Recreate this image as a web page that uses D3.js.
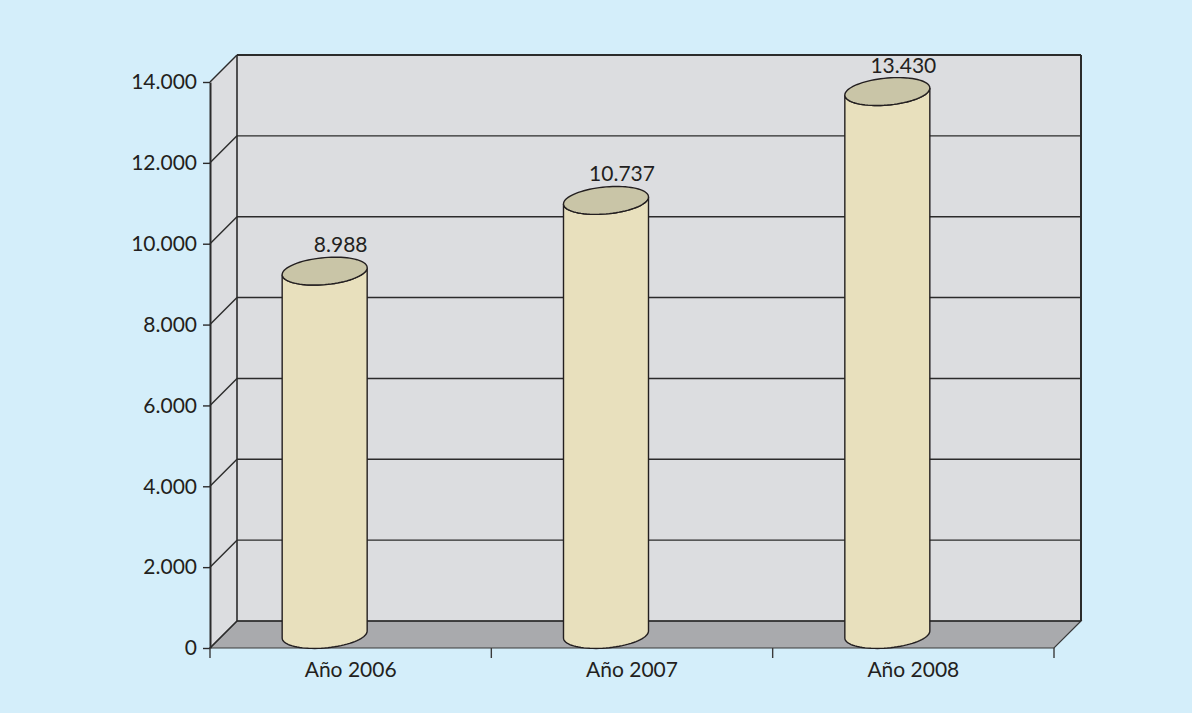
<!DOCTYPE html>
<html>
<head>
<meta charset="utf-8">
<script src="https://cdn.jsdelivr.net/npm/d3@7"></script>
<style>
  body { margin: 0; background: #d4eefa; }
  svg { display: block; }
  text { font-family: Lato, "Open Sans", sans-serif; fill: #231f20; }
</style>
</head>
<body>
<div id="chart"></div>
<script>
var years = ["Año 2006", "Año 2007", "Año 2008"];
var values = [8988, 10737, 13430];
var valueLabels = ["8.988", "10.737", "13.430"];
var ticks = [0, 2000, 4000, 6000, 8000, 10000, 12000, 14000];
var tickLabels = ["0", "2.000", "4.000", "6.000", "8.000", "10.000", "12.000", "14.000"];

var width = 1192, height = 713;
var depth = 27;

var svg = d3.select("#chart")
    .append("svg")
    .attr("width", width)
    .attr("height", height);

svg.append("rect")
    .attr("width", width)
    .attr("height", height)
    .attr("fill", "#d4eefa");

// back wall scale, the front one is shifted by depth
var y = d3.scaleLinear()
    .domain([0, 14000])
    .range([621, 55]);

var x = d3.scaleBand()
    .domain(years)
    .range([210, 1054])
    .padding(0);

var x0 = x.range()[0], x1 = x.range()[1];
var yTop = y(14000), yBot = y(0);

// back wall
svg.append("rect")
    .attr("x", x0 + depth)
    .attr("y", yTop)
    .attr("width", x1 - x0)
    .attr("height", yBot - yTop)
    .attr("fill", "#dcdde0");

// side wall
svg.append("polygon")
    .attr("points", [[x0, yTop + depth], [x0 + depth, yTop], [x0 + depth, yBot], [x0, yBot + depth]].join(" "))
    .attr("fill", "#dcdde0");

// floor
svg.append("polygon")
    .attr("points", [[x0, yBot + depth], [x0 + depth, yBot], [x1 + depth, yBot], [x1, yBot + depth]].join(" "))
    .attr("fill", "#a9aaad")
    .attr("stroke", "#3a3a3a")
    .attr("stroke-width", 1.2);

// grid lines on back wall + diagonals on side wall
svg.selectAll(".grid")
    .data(ticks)
    .enter()
    .append("line")
    .attr("class", "grid")
    .attr("x1", x0 + depth)
    .attr("x2", x1 + depth)
    .attr("y1", function(d) { return y(d); })
    .attr("y2", function(d) { return y(d); })
    .attr("stroke", "#2b2b2b")
    .attr("stroke-width", function(d) { return d === 14000 ? 2 : 1.4; });

svg.selectAll(".diag")
    .data(ticks)
    .enter()
    .append("line")
    .attr("class", "diag")
    .attr("x1", x0)
    .attr("x2", x0 + depth)
    .attr("y1", function(d) { return y(d) + depth; })
    .attr("y2", function(d) { return y(d); })
    .attr("stroke", "#2b2b2b")
    .attr("stroke-width", 1.4);

// wall edges
svg.append("line")
    .attr("x1", x0 + depth).attr("x2", x0 + depth)
    .attr("y1", yTop).attr("y2", yBot)
    .attr("stroke", "#2b2b2b").attr("stroke-width", 1.6);
svg.append("line")
    .attr("x1", x1 + depth).attr("x2", x1 + depth)
    .attr("y1", yTop).attr("y2", yBot)
    .attr("stroke", "#2b2b2b").attr("stroke-width", 2);

// front y axis
var yFront = y.copy().range([yBot + depth, yTop + depth]);
var yAxis = svg.append("g")
    .attr("transform", "translate(" + x0 + ",0)")
    .call(d3.axisLeft(yFront)
        .tickValues(ticks)
        .tickFormat(function(d, i) { return tickLabels[i]; })
        .tickSize(7)
        .tickSizeOuter(0)
        .tickPadding(6));
yAxis.select(".domain").attr("stroke", "#2b2b2b").attr("stroke-width", 2);
yAxis.selectAll(".tick line").attr("stroke", "#2b2b2b").attr("stroke-width", 1.4);
yAxis.selectAll("text")
    .attr("font-size", "21px")
    .attr("font-family", "Lato, sans-serif")
    .attr("fill", "#231f20");

// x axis
var xAxis = svg.append("g")
    .attr("transform", "translate(0," + (yBot + depth) + ")")
    .call(d3.axisBottom(x).tickSize(0).tickPadding(14));
xAxis.select(".domain").remove();
xAxis.selectAll("text")
    .attr("font-size", "21px")
    .attr("font-family", "Lato, sans-serif")
    .attr("fill", "#231f20");

var boundaries = [x0].concat(years.map(function(d) { return x(d) + x.bandwidth(); }));
svg.selectAll(".xtick")
    .data(boundaries)
    .enter()
    .append("line")
    .attr("x1", function(d) { return d; })
    .attr("x2", function(d) { return d; })
    .attr("y1", yBot + depth)
    .attr("y2", yBot + depth + 10)
    .attr("stroke", "#3a3a3a")
    .attr("stroke-width", 1.4);

// cylinders
var rx = 42.5, ry = 13.5, shear = -3.5;
var half = depth / 2;

function ellPoint(cx, cy, t) {
    return [cx + rx * Math.cos(t), cy + ry * Math.sin(t) + shear * Math.cos(t)];
}
function arcPoints(cx, cy, t0, t1, n) {
    var pts = [];
    for (var i = 0; i <= n; i++) {
        var t = t0 + (t1 - t0) * i / n;
        pts.push(ellPoint(cx, cy, t));
    }
    return pts;
}

var line = d3.line();
var data = years.map(function(d, i) { return { year: d, value: values[i], label: valueLabels[i] }; });

var cyl = svg.selectAll(".cyl")
    .data(data)
    .enter()
    .append("g")
    .attr("class", "cyl");

cyl.each(function(d) {
    var g = d3.select(this);
    var cx = x(d.year) + x.bandwidth() / 2 - 26;
    var cTop = y(d.value) + half;
    var cBot = y(0) + half;

    // body: bottom front arc, then top front arc back
    var pts = [];
    pts = pts.concat(arcPoints(cx, cBot, Math.PI, 0, 40));
    pts = pts.concat(arcPoints(cx, cTop, 0, Math.PI, 40));
    g.append("path")
        .attr("d", line(pts) + "Z")
        .attr("fill", "#e8e0bd")
        .attr("stroke", "#231f20")
        .attr("stroke-width", 1.4);

    g.append("path")
        .attr("d", line(arcPoints(cx, cTop, 0, 2 * Math.PI, 80)) + "Z")
        .attr("fill", "#c9c5a7")
        .attr("stroke", "#231f20")
        .attr("stroke-width", 1.4);

    g.append("text")
        .attr("x", cx + 16)
        .attr("y", cTop - 19)
        .attr("text-anchor", "middle")
        .attr("font-size", "21px")
        .text(d.label);
});
</script>
</body>
</html>
